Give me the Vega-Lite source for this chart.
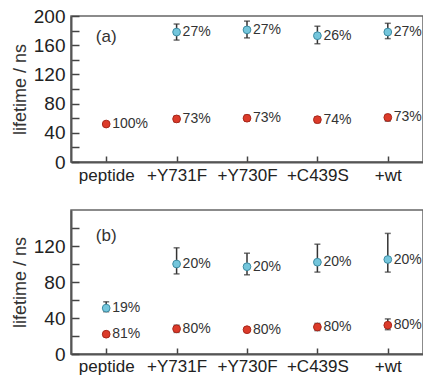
{
  "$schema": "https://vega.github.io/schema/vega-lite/v6.json",
  "padding": {"left": 10, "top": 6, "right": 0, "bottom": 0},
  "background": "white",
  "datasets": {
    "a": [
      {"sample": "peptide", "comp": "short", "value": 52, "lo": null, "hi": null, "pct": "100%"},
      {"sample": "+Y731F", "comp": "long", "value": 178, "lo": 167, "hi": 189, "pct": "27%"},
      {"sample": "+Y731F", "comp": "short", "value": 59, "lo": 55, "hi": 63, "pct": "73%"},
      {"sample": "+Y730F", "comp": "long", "value": 181, "lo": 170, "hi": 193, "pct": "27%"},
      {"sample": "+Y730F", "comp": "short", "value": 60, "lo": 56, "hi": 64, "pct": "73%"},
      {"sample": "+C439S", "comp": "long", "value": 173, "lo": 162, "hi": 186, "pct": "26%"},
      {"sample": "+C439S", "comp": "short", "value": 58, "lo": 54, "hi": 62, "pct": "74%"},
      {"sample": "+wt", "comp": "long", "value": 178, "lo": 169, "hi": 190, "pct": "27%"},
      {"sample": "+wt", "comp": "short", "value": 61, "lo": 56, "hi": 65, "pct": "73%"}
    ],
    "b": [
      {"sample": "peptide", "comp": "long", "value": 51, "lo": 47, "hi": 58, "pct": "19%"},
      {"sample": "peptide", "comp": "short", "value": 22, "lo": null, "hi": null, "pct": "81%"},
      {"sample": "+Y731F", "comp": "long", "value": 100, "lo": 89, "hi": 118, "pct": "20%"},
      {"sample": "+Y731F", "comp": "short", "value": 28, "lo": 24, "hi": 32, "pct": "80%"},
      {"sample": "+Y730F", "comp": "long", "value": 97, "lo": 88, "hi": 112, "pct": "20%"},
      {"sample": "+Y730F", "comp": "short", "value": 27, "lo": 25, "hi": 29, "pct": "80%"},
      {"sample": "+C439S", "comp": "long", "value": 102, "lo": 91, "hi": 122, "pct": "20%"},
      {"sample": "+C439S", "comp": "short", "value": 30, "lo": 26, "hi": 34, "pct": "80%"},
      {"sample": "+wt", "comp": "long", "value": 105, "lo": 91, "hi": 134, "pct": "20%"},
      {"sample": "+wt", "comp": "short", "value": 32, "lo": 27, "hi": 39, "pct": "80%"}
    ]
  },
  "spacing": 25,
  "vconcat": [
    {
      "width": 352,
      "height": 146,
      "data": {"name": "a"},
      "encoding": {
        "x": {"field": "sample", "type": "nominal", "sort": ["peptide", "+Y731F", "+Y730F", "+C439S", "+wt"], "scale": {"type": "point", "padding": 0.5}, "axis": {"title": null, "labelAngle": 0, "tickSize": -6, "labelPadding": 11}}
      },
      "layer": [
        {
          "transform": [{"filter": "datum.lo != null"}],
          "mark": {"type": "errorbar", "ticks": {"size": 6, "thickness": 1.5}, "thickness": 1.5, "color": "#333"},
          "encoding": {
            "y": {"field": "lo", "type": "quantitative", "scale": {"domain": [0, 200]}, "title": "lifetime / ns", "axis": {"values": [0, 20, 40, 60, 80, 100, 120, 140, 160, 180, 200], "labelExpr": "datum.value % 40 === 0 ? datum.label : ''", "labelOverlap": false, "tickSize": -8, "labelPadding": 14}},
            "y2": {"field": "hi"}
          }
        },
        {
          "mark": {"type": "point", "filled": true, "size": 60, "strokeWidth": 1, "opacity": 1},
          "encoding": {
            "y": {"field": "value", "type": "quantitative", "title": "lifetime / ns", "axis": {"values": [0, 20, 40, 60, 80, 100, 120, 140, 160, 180, 200], "labelExpr": "datum.value % 40 === 0 ? datum.label : ''", "labelOverlap": false, "tickSize": -8, "labelPadding": 14}},
            "fill": {"field": "comp", "type": "nominal", "scale": {"domain": ["long", "short"], "range": ["#74c6dc", "#dc3b2a"]}, "legend": null},
            "stroke": {"field": "comp", "type": "nominal", "scale": {"domain": ["long", "short"], "range": ["#3d8ca3", "#a8271b"]}, "legend": null}
          }
        },
        {
          "mark": {"type": "text", "align": "left", "baseline": "middle", "dx": 6, "fontSize": 14, "font": "Liberation Sans", "color": "#333"},
          "encoding": {
            "y": {"field": "value", "type": "quantitative", "title": "lifetime / ns", "axis": {"values": [0, 20, 40, 60, 80, 100, 120, 140, 160, 180, 200], "labelExpr": "datum.value % 40 === 0 ? datum.label : ''", "labelOverlap": false, "tickSize": -8, "labelPadding": 14}},
            "text": {"field": "pct"}
          }
        },
        {
          "data": {"values": [{}]},
          "mark": {"type": "text", "align": "center", "baseline": "middle", "fontSize": 17, "font": "Liberation Sans", "color": "#333"},
          "encoding": {
            "x": {"datum": "peptide"},
            "y": {"datum": 171, "type": "quantitative", "title": "lifetime / ns", "axis": {"values": [0, 20, 40, 60, 80, 100, 120, 140, 160, 180, 200], "labelExpr": "datum.value % 40 === 0 ? datum.label : ''", "labelOverlap": false, "tickSize": -8, "labelPadding": 14}},
            "text": {"value": "(a)"}
          }
        }
      ]
    },
    {
      "width": 352,
      "height": 144,
      "data": {"name": "b"},
      "encoding": {
        "x": {"field": "sample", "type": "nominal", "sort": ["peptide", "+Y731F", "+Y730F", "+C439S", "+wt"], "scale": {"type": "point", "padding": 0.5}, "axis": {"title": null, "labelAngle": 0, "tickSize": -6, "labelPadding": 10}}
      },
      "layer": [
        {
          "transform": [{"filter": "datum.lo != null"}],
          "mark": {"type": "errorbar", "ticks": {"size": 6, "thickness": 1.5}, "thickness": 1.5, "color": "#333"},
          "encoding": {
            "y": {"field": "lo", "type": "quantitative", "scale": {"domain": [0, 150]}, "title": "lifetime / ns", "axis": {"values": [0, 20, 40, 60, 80, 100, 120, 140], "labelExpr": "datum.value % 40 === 0 ? datum.label : ''", "labelOverlap": false, "tickSize": -8, "labelPadding": 14}},
            "y2": {"field": "hi"}
          }
        },
        {
          "mark": {"type": "point", "filled": true, "size": 60, "strokeWidth": 1, "opacity": 1},
          "encoding": {
            "y": {"field": "value", "type": "quantitative", "title": "lifetime / ns", "axis": {"values": [0, 20, 40, 60, 80, 100, 120, 140], "labelExpr": "datum.value % 40 === 0 ? datum.label : ''", "labelOverlap": false, "tickSize": -8, "labelPadding": 14}},
            "fill": {"field": "comp", "type": "nominal", "scale": {"domain": ["long", "short"], "range": ["#74c6dc", "#dc3b2a"]}, "legend": null},
            "stroke": {"field": "comp", "type": "nominal", "scale": {"domain": ["long", "short"], "range": ["#3d8ca3", "#a8271b"]}, "legend": null}
          }
        },
        {
          "mark": {"type": "text", "align": "left", "baseline": "middle", "dx": 6, "fontSize": 14, "font": "Liberation Sans", "color": "#333"},
          "encoding": {
            "y": {"field": "value", "type": "quantitative", "title": "lifetime / ns", "axis": {"values": [0, 20, 40, 60, 80, 100, 120, 140], "labelExpr": "datum.value % 40 === 0 ? datum.label : ''", "labelOverlap": false, "tickSize": -8, "labelPadding": 14}},
            "text": {"field": "pct"}
          }
        },
        {
          "data": {"values": [{}]},
          "mark": {"type": "text", "align": "center", "baseline": "middle", "fontSize": 17, "font": "Liberation Sans", "color": "#333"},
          "encoding": {
            "x": {"datum": "peptide"},
            "y": {"datum": 131, "type": "quantitative", "title": "lifetime / ns", "axis": {"values": [0, 20, 40, 60, 80, 100, 120, 140], "labelExpr": "datum.value % 40 === 0 ? datum.label : ''", "labelOverlap": false, "tickSize": -8, "labelPadding": 14}},
            "text": {"value": "(b)"}
          }
        }
      ]
    }
  ],
  "config": {
    "view": {"stroke": "#666", "strokeWidth": 1.5},
    "axis": {
      "grid": false,
      "ticks": true,
      "domainColor": "#555",
      "domainWidth": 2,
      "tickColor": "#444",
      "tickWidth": 1.5,
      "labelOverlap": false,
      "labelFlush": false,
      "labelFont": "Liberation Sans",
      "labelFontSize": 19,
      "labelColor": "#222",
      "titleFont": "Liberation Sans",
      "titleFontSize": 18,
      "titleFontWeight": "normal",
      "titleColor": "#333",
      "titlePadding": 4
    },
    "axisX": {"labelFontSize": 17}
  }
}
